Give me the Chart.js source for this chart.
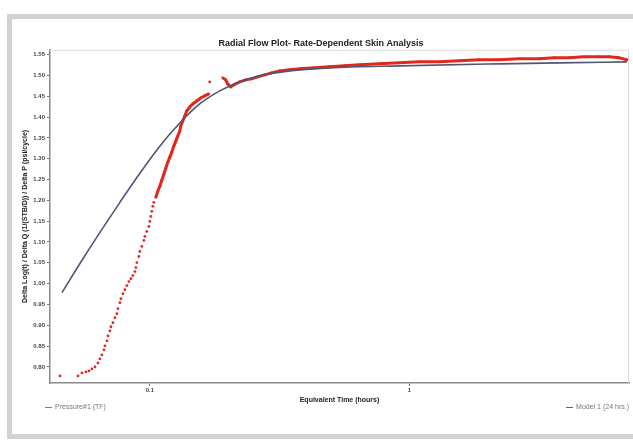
<!DOCTYPE html>
<html>
<head>
<meta charset="utf-8">
<script src="https://cdn.jsdelivr.net/npm/chart.js@4"></script>
<style>
body{margin:0;background:#fff;width:633px;height:442px;overflow:hidden;position:relative;font-family:"Liberation Sans",Arial,sans-serif}
#frame{position:absolute;left:7px;top:14px;width:660px;height:425px;border:5px solid #d2d2d2;box-sizing:border-box}
#wrap{position:absolute;left:12px;top:19px;width:621px;height:420px}
.leg{position:absolute;top:403px;font-size:7px;color:#777;white-space:nowrap}
.leg span{display:inline-block;width:7px;height:1px;vertical-align:middle;margin-right:3px}
</style>
</head>
<body>
<div id="frame"></div>
<div id="wrap"><canvas id="radialFlow"></canvas></div>
<div class="leg" style="left:45px"><span style="background:#e0554c"></span>Pressure#1 (TF)</div>
<div class="leg" style="right:4px"><span style="background:#5a6580"></span>Model 1 (24 hrs.)</div>
<script>
//Radial flow plot

//tick labels
const yTicks = [0.80,0.85,0.90,0.95,1.00,1.05,1.10,1.15,1.20,1.25,1.30,1.35,1.40,1.45,1.50,1.55];
const xTicks = [0.1, 1];

//Pressure #1 - equivalent time (hours)
const pressureT = [0.04507,0.05286,0.05476,0.05673,0.05826,0.05983,0.06144,0.0631,0.06422,0.06537,
  0.06654,0.06713,0.06833,0.06894,0.07017,0.0708,0.07206,0.07335,0.07466,0.07532,
  0.07667,0.07735,0.07874,0.08014,0.08157,0.08303,0.08451,0.08602,0.08756,0.08834,
  0.08913,0.09072,0.09152,0.09316,0.09483,0.09567,0.09738,0.09912,0.1,0.10089,
  0.10179,0.10269,0.10361,0.10546,0.10734,0.10926,0.11121,0.1132,0.11522,0.11728,
  0.11938,0.12151,0.12368,0.12589,0.12814,0.13043,0.13159,0.13394,0.13634,0.13877,
  0.14251,0.14634,0.15162,0.15709,0.16276,0.16862,
  0.1695,0.1701,0.18,
  0.1909,0.196,0.1995,0.2049,0.2104,0.2219,0.234,0.2468,0.2603,0.2769,
  0.2946,0.3162,0.3455,0.3776,0.4312,0.4924,0.5623,0.6423,0.7666,0.9153,
  1.0927,1.3044,1.5571,1.8589,2.219,2.649,3.1623,3.612,4.125,4.711,
  5.381,5.879,6.423,6.895];
//Pressure #1 - y value (null = gap in the record)
const pressureV = [0.7783,0.7783,0.7855,0.7880,0.7904,0.7952,0.8000,0.8096,0.8193,0.8289,
  0.8410,0.8506,0.8627,0.8747,0.8867,0.8964,0.9060,0.9181,0.9277,0.9398,
  0.9542,0.9639,0.9759,0.9855,0.9952,1.0048,1.0120,1.0193,1.0289,1.0386,
  1.0506,1.0651,1.0771,1.0892,1.1036,1.1133,1.1253,1.1373,1.1494,1.1614,
  1.1735,1.1855,1.1952,1.2072,1.2217,1.2337,1.2482,1.2627,1.2771,1.2916,
  1.3036,1.3157,1.3301,1.3422,1.3542,1.3663,1.3783,1.3904,1.4024,1.4145,
  1.4241,1.4313,1.4386,1.4458,1.4506,1.4554,
  null,1.4843,null,
  1.4940,1.4892,1.4795,1.4723,1.4771,1.4843,1.4892,1.4916,1.4964,1.5012,
  1.5060,1.5108,1.5133,1.5157,1.5181,1.5205,1.5229,1.5253,1.5277,1.5301,
  1.5325,1.5325,1.5349,1.5373,1.5373,1.5398,1.5398,1.5422,1.5422,1.5446,
  1.5446,1.5446,1.5422,1.5373];

//Model 1
const modelT = [0.04587,0.0538,0.06422,0.07667,0.09152,0.10926,0.13043,0.15571,0.18588,0.2219,0.2649,0.3455,0.4924,0.9153,2.219,3.776,6.895];
const modelV = [0.9783,1.0482,1.1229,1.1952,1.2651,1.3301,1.3855,1.4313,1.4627,1.4843,1.4988,1.5108,1.5181,1.5229,1.5277,1.5301,1.5325];

const redCol = '#e2271c';
const blueCol = '#4e5874';

const pressurePts = pressureT.map((t, i) => ({x: t, y: pressureV[i]}));
const modelPts = modelT.map((t, i) => ({x: t, y: modelV[i]}));

// light frame on top/right of the plot area
const plotFrame = {
  id: 'plotFrame',
  beforeDatasetsDraw(chart) {
    const a = chart.chartArea, c = chart.ctx;
    c.save();
    c.strokeStyle = '#dcdcdc';
    c.lineWidth = 1;
    c.beginPath();
    c.moveTo(a.left, a.top + 0.5);
    c.lineTo(a.right - 0.5, a.top + 0.5);
    c.lineTo(a.right - 0.5, a.bottom);
    c.stroke();
    c.restore();
  }
};

const ctx = document.getElementById('radialFlow');

const radialChart = new Chart(ctx, {
  type: 'scatter',
  data: {
    datasets: [
      {
        label: 'Pressure#1 (TF)',
        data: pressurePts,
        showLine: true,
        spanGaps: false,
        borderWidth: 3,
        borderColor: redCol,
        segment: {
          borderColor: c => c.p0.parsed.x < 0.105 ? 'rgba(0,0,0,0)' : redCol
        },
        pointRadius: 1.4,
        pointBorderWidth: 0,
        pointBackgroundColor: redCol,
        order: 1
      },
      {
        label: 'Model 1 (24 hrs.)',
        data: modelPts,
        showLine: true,
        borderColor: blueCol,
        borderWidth: 1.6,
        cubicInterpolationMode: 'monotone',
        pointRadius: 0,
        order: 0
      }
    ]
  },
  options: {
    responsive: true,
    maintainAspectRatio: false,
    animation: false,
    layout: { padding: { left: 0, right: 3, top: 0, bottom: 32 } },
    plugins: {
      legend: { display: false },
      tooltip: { enabled: false },
      title: {
        display: true,
        text: 'Radial Flow Plot- Rate-Dependent Skin Analysis',
        color: '#222',
        font: { family: 'Liberation Sans', size: 9, weight: 'bold' },
        padding: { top: 19, bottom: 1 }
      }
    },
    scales: {
      x: {
        type: 'logarithmic',
        min: 0.04124,
        max: 7.02,
        afterBuildTicks: s => { s.ticks = xTicks.map(v => ({ value: v })); },
        afterFit: s => { s.height = 24; },
        ticks: {
          color: '#444',
          font: { family: 'Liberation Sans', size: 6, weight: 'bold' },
          padding: 1,
          maxRotation: 0,
          callback: v => String(v)
        },
        grid: { drawOnChartArea: false, tickLength: 3, color: '#777' },
        border: { color: '#8a8a8a', width: 1.5 },
        title: {
          display: true,
          text: 'Equivalent Time (hours)',
          color: '#222',
          font: { family: 'Liberation Sans', size: 7, weight: 'bold' },
          padding: { top: 4, bottom: 3 }
        }
      },
      y: {
        min: 0.7614,
        max: 1.5614,
        afterBuildTicks: s => { s.ticks = yTicks.map(v => ({ value: v })); },
        afterFit: s => { s.width = 38; },
        ticks: {
          color: '#444',
          font: { family: 'Liberation Sans', size: 6, weight: 'bold' },
          padding: 2,
          callback: v => v.toFixed(2)
        },
        grid: { drawOnChartArea: false, tickLength: 3, color: '#777' },
        border: { color: '#8a8a8a', width: 1.5 },
        title: {
          display: true,
          text: 'Delta Log(t) / Delta Q (1/(STB/D)) / Delta P (psi/cycle)',
          color: '#222',
          font: { family: 'Liberation Sans', size: 7, weight: 'bold' },
          padding: { top: 9, bottom: 9 }
        }
      }
    }
  },
  plugins: [plotFrame]
});
</script>
</body>
</html>
